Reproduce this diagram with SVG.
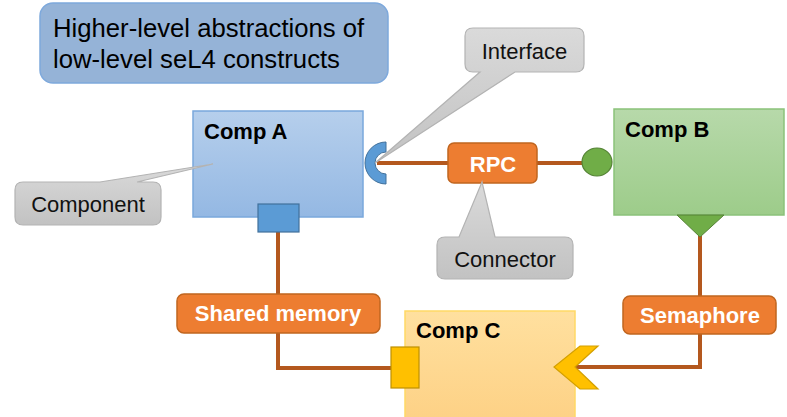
<svg xmlns="http://www.w3.org/2000/svg" width="787" height="417" viewBox="0 0 787 417">
<defs>
<linearGradient id="gA" x1="0" y1="0" x2="0" y2="1"><stop offset="0" stop-color="#b6cfec"/><stop offset="1" stop-color="#94b8e3"/></linearGradient>
<linearGradient id="gB" x1="0" y1="0" x2="0" y2="1"><stop offset="0" stop-color="#b7d9aa"/><stop offset="1" stop-color="#9dcc8a"/></linearGradient>
<linearGradient id="gC" x1="0" y1="0" x2="0" y2="1"><stop offset="0" stop-color="#ffe09f"/><stop offset="1" stop-color="#fdd185"/></linearGradient>
<linearGradient id="gG" x1="0" y1="0" x2="0" y2="1"><stop offset="0" stop-color="#dadada"/><stop offset="1" stop-color="#c2c2c2"/></linearGradient>
</defs>
<style>
text{font-family:"Liberation Sans",Arial,sans-serif}
.comp{stroke-width:1.5}
.ct{font-size:22px;font-weight:bold;fill:#000}
.conn{fill:#ed7d31;stroke:#c0651f;stroke-width:1.5}
.cl{font-size:22px;font-weight:bold;fill:#fff;text-anchor:middle}
.wire{fill:none;stroke:#b4581e;stroke-width:4}
.call{fill:url(#gG);stroke:#b3b3b3;stroke-width:1.2}
.callt{font-size:22px;fill:#111;text-anchor:middle}
</style>
<g id="title">
<rect x="40" y="3" width="348" height="80" rx="13" fill="#95b3d7" stroke="#7ea9dc" stroke-width="1.5"/>
<text x="53" y="37" font-size="25.7" fill="#000">Higher-level abstractions of</text>
<text x="53" y="68" font-size="25.7" fill="#000">low-level seL4 constructs</text>
</g>
<g id="connectors">
<path class="wire" d="M377,163 H449"/>
<path class="wire" d="M537,163 H584"/>
<path class="wire" d="M278,232 V295"/>
<path class="wire" d="M278,333 V368 H392"/>
<path class="wire" d="M700,236 V297"/>
<path class="wire" d="M700,334 V367 H576"/>
</g>
<g id="compA">
<rect class="comp" x="193" y="111" width="170" height="106" fill="url(#gA)" stroke="#7aa8dc"/>
<text class="ct" x="204" y="139">Comp A</text>
<rect x="258" y="204" width="41" height="28" fill="#5b9bd5" stroke="#41719c" stroke-width="1.2"/>
<path d="M386,142 A21,21 0 0 0 386,184 V174 A11,11 0 0 1 386,152 Z" fill="#5b9bd5" stroke="#41719c" stroke-width="1"/>
</g>
<g id="compB">
<rect class="comp" x="614" y="109" width="170" height="106" fill="url(#gB)" stroke="#8bc27a"/>
<text class="ct" x="625" y="137">Comp B</text>
<ellipse cx="597" cy="162" rx="15" ry="14" fill="#70ad47" stroke="#548235" stroke-width="1.2"/>
<path d="M677,215 H724 L700,237 Z" fill="#70ad47" stroke="#548235" stroke-width="1"/>
</g>
<g id="compC">
<rect class="comp" x="405" y="311" width="170" height="110" fill="url(#gC)" stroke="#ffd966"/>
<text class="ct" x="416" y="338">Comp C</text>
<rect x="391" y="347" width="28" height="41" fill="#ffc000" stroke="#bf9000" stroke-width="1.2"/>
<path d="M580,346 H598 L575,367 L598,389 H580 L554,367 Z" fill="#ffc000" stroke="#d4a000" stroke-width="1.2"/>
</g>
<g id="rpc">
<rect class="conn" x="448" y="143" width="89" height="40" rx="6"/>
<text class="cl" x="493" y="172">RPC</text>
</g>
<g id="shared-memory">
<rect class="conn" x="177" y="294" width="203" height="39" rx="7"/>
<text class="cl" x="278" y="321">Shared memory</text>
</g>
<g id="semaphore">
<rect class="conn" x="623" y="296" width="153" height="38" rx="7"/>
<text class="cl" x="700" y="323">Semaphore</text>
</g>
<g id="callout-interface">
<path class="call" d="M473,28 H576 Q584,28 584,36 V64 Q584,72 576,72 H515 L375,163 L480,72 H473 Q465,72 465,64 V36 Q465,28 473,28 Z"/>
<text class="callt" x="524.5" y="59">Interface</text>
</g>
<g id="callout-connector">
<path class="call" d="M445,237 H459 L482,182 L495,237 H565 Q573,237 573,245 V271 Q573,279 565,279 H445 Q437,279 437,271 V245 Q437,237 445,237 Z"/>
<text class="callt" x="505" y="267">Connector</text>
</g>
<g id="callout-component">
<path class="call" d="M23,182 H100 L213,164 L137,182 H153 Q161,182 161,190 V217 Q161,225 153,225 H23 Q15,225 15,217 V190 Q15,182 23,182 Z"/>
<text class="callt" x="88" y="212">Component</text>
</g>
</svg>
